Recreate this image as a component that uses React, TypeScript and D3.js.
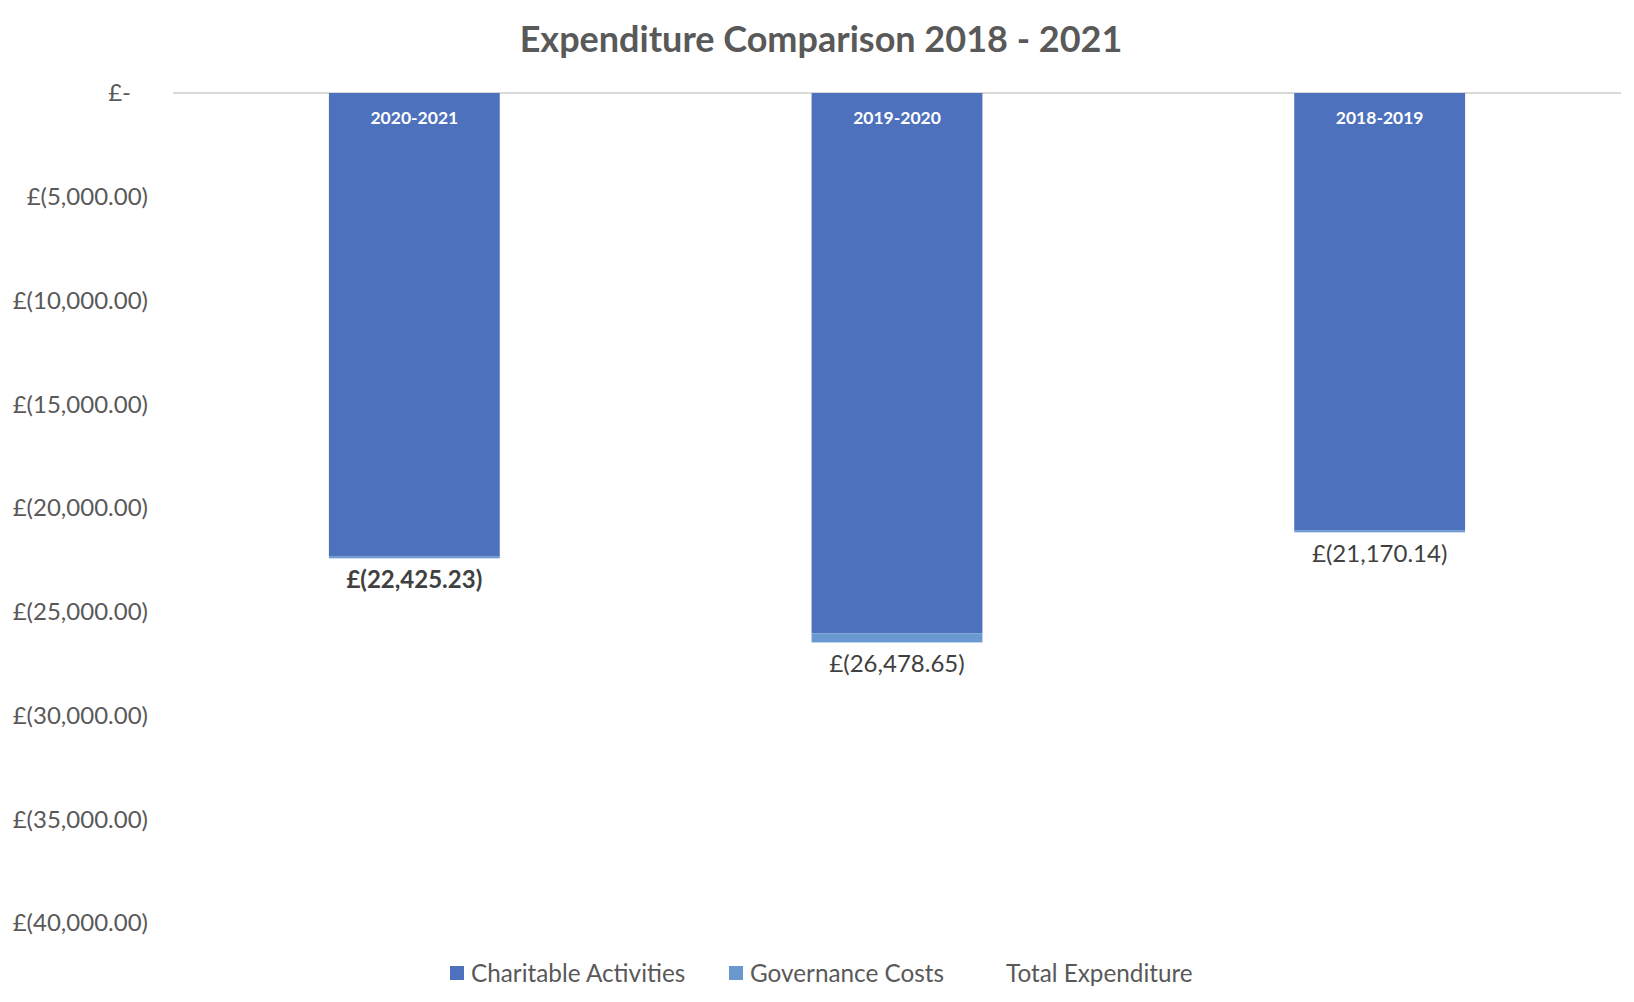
import * as d3 from "d3";

const categories = ["2020-2021", "2019-2020", "2018-2019"];
const charitable = [-22345.23, -26048.65, -21090.14];
const governance = [-80, -430, -80];
const totals = [-22425.23, -26478.65, -21170.14];
const yTicks = [0, -5000, -10000, -15000, -20000, -25000, -30000, -35000, -40000];
const seriesNames = ["Charitable Activities", "Governance Costs", "Total Expenditure"];
const seriesColors = ["#4E71BE", "#6A99D0", "none"];

const W = 1634;
const H = 1002;
const font = "Lato, 'Open Sans', sans-serif";
const grey = "#595959";

const money = d3.format(",.2f");
const fmt = (v: number) => (v === 0 ? "£-" : `£(${money(Math.abs(v))})`);

export default function App() {
  const x = d3
    .scaleBand<string>()
    .domain(categories)
    .range([173, 1621])
    .paddingInner(0.646)
    .paddingOuter(0.323);
  const y = d3.scaleLinear().domain([0, -40000]).range([93, 923]);

  const legendX = [450, 729, 1006];

  return (
    <svg width={W} height={H} style={{ position: "absolute", left: 0, top: 0 }} fontFamily={font}>
      <rect width={W} height={H} fill="#fff" />
      <text x={821} y={52} textAnchor="middle" fontSize={36} fontWeight="bold" fill={grey}>
        Expenditure Comparison 2018 - 2021
      </text>

      {yTicks.map((t) => (
        <text
          key={t}
          x={t === 0 ? 131 : 148}
          y={y(t)}
          dy="0.35em"
          textAnchor="end"
          fontSize={24}
          fill={grey}
        >
          {fmt(t)}
        </text>
      ))}

      <line x1={173} x2={1621} y1={y(0)} y2={y(0)} stroke="#D9D9D9" strokeWidth={2} />

      {categories.map((c, i) => {
        const x0 = x(c) ?? 0;
        const bw = x.bandwidth();
        return (
          <g key={c}>
            <rect x={x0} y={y(0)} width={bw} height={y(charitable[i]) - y(0)} fill={seriesColors[0]} />
            <rect
              x={x0}
              y={y(charitable[i])}
              width={bw}
              height={y(charitable[i] + governance[i]) - y(charitable[i])}
              fill={seriesColors[1]}
            />
            <text
              x={x0 + bw / 2}
              y={y(0) + 25}
              dy="0.35em"
              textAnchor="middle"
              fontSize={17.5}
              fontWeight="bold"
              fill="#fff"
            >
              {c}
            </text>
            <text
              x={x0 + bw / 2}
              y={y(totals[i]) + 21}
              dy="0.35em"
              textAnchor="middle"
              fontSize={24}
              fontWeight={i === 0 ? "bold" : "normal"}
              fill="#404040"
            >
              {fmt(totals[i])}
            </text>
          </g>
        );
      })}

      {seriesNames.map((s, i) => (
        <g key={s}>
          {seriesColors[i] !== "none" && (
            <rect x={legendX[i]} y={966} width={14} height={14} fill={seriesColors[i]} />
          )}
          <text
            x={i === 2 ? legendX[i] : legendX[i] + 21}
            y={973}
            dy="0.35em"
            fontSize={24.3}
            fill={grey}
          >
            {s}
          </text>
        </g>
      ))}
    </svg>
  );
}
